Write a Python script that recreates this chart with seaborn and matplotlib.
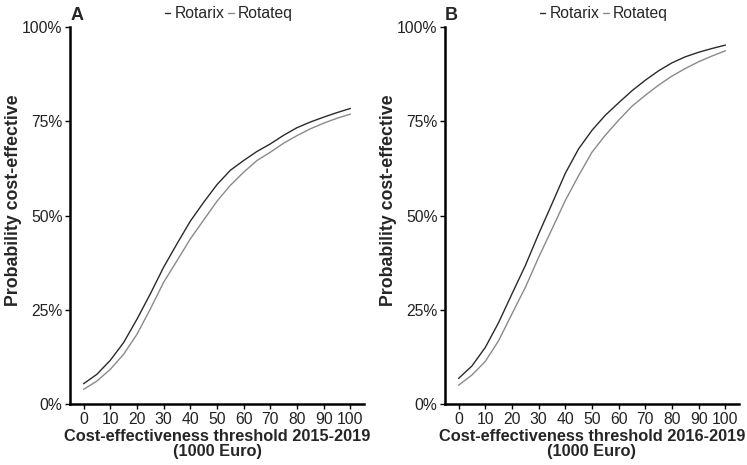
"""
Cost-effectiveness acceptability curves, Rotarix vs Rotateq
"""
import pandas as pd
import matplotlib.pyplot as plt
import seaborn as sns
from matplotlib.ticker import PercentFormatter

# Threshold (1000 Euro)
thresholds = [0, 5, 10, 15, 20, 25, 30, 35, 40, 45, 50,
              55, 60, 65, 70, 75, 80, 85, 90, 95, 100]

# Panel A: 2015-2019
a_rotarix = [0.054, 0.079, 0.116, 0.163, 0.225, 0.292, 0.363, 0.425, 0.485, 0.535, 0.582,
             0.620, 0.646, 0.670, 0.690, 0.713, 0.733, 0.748, 0.761, 0.773, 0.784]
a_rotateq = [0.039, 0.061, 0.092, 0.132, 0.185, 0.252, 0.323, 0.380, 0.438, 0.488, 0.538,
             0.580, 0.615, 0.646, 0.668, 0.692, 0.712, 0.730, 0.745, 0.758, 0.769]

# Panel B: 2016-2019
b_rotarix = [0.068, 0.101, 0.150, 0.216, 0.292, 0.367, 0.451, 0.531, 0.612, 0.677, 0.726,
             0.766, 0.799, 0.831, 0.859, 0.884, 0.905, 0.921, 0.933, 0.943, 0.952]
b_rotateq = [0.050, 0.077, 0.113, 0.168, 0.239, 0.309, 0.389, 0.464, 0.540, 0.606, 0.668,
             0.713, 0.753, 0.790, 0.819, 0.846, 0.870, 0.890, 0.908, 0.923, 0.937]

panels = [
    ("A", "Cost-effectiveness threshold 2015-2019\n(1000 Euro)", a_rotarix, a_rotateq),
    ("B", "Cost-effectiveness threshold 2016-2019\n(1000 Euro)", b_rotarix, b_rotateq),
]

sns.set_style("white")
plt.rcParams['font.family'] = ['Liberation Sans', 'DejaVu Sans']

fig = plt.figure(figsize=(7.47, 4.65), dpi=100)
lefts = [0.094, 0.596]
palette = {"Rotarix": "#2a2a2a", "Rotateq": "#8a8a8a"}

for left, (tag, xlabel, rotarix, rotateq) in zip(lefts, panels):
    ax = fig.add_axes([left, 0.131, 0.393, 0.811])
    df = pd.DataFrame({
        "threshold": thresholds * 2,
        "prob": rotarix + rotateq,
        "vaccine": ["Rotarix"] * len(thresholds) + ["Rotateq"] * len(thresholds),
    })
    sns.lineplot(data=df, x="threshold", y="prob", hue="vaccine",
                 palette=palette, linewidth=1.0, ax=ax)

    ax.set_xlim(-5, 105)
    ax.set_ylim(0, 1)
    ax.set_xticks(range(0, 101, 10))
    ax.set_yticks([0, 0.25, 0.5, 0.75, 1.0])
    ax.yaxis.set_major_formatter(PercentFormatter(1.0, decimals=0))
    sns.despine(ax=ax)
    for side in ["left", "bottom"]:
        ax.spines[side].set_linewidth(1.8)
        ax.spines[side].set_color("black")
    ax.tick_params(axis="both", length=3.5, width=1, color="black",
                   labelsize=11.3, labelcolor="#222222", direction="out",
                   bottom=True, left=True, pad=2)
    ax.set_xlabel(xlabel, fontsize=11.8, fontweight="bold", labelpad=1.5,
                  linespacing=1.05)
    ax.set_ylabel("Probability cost-effective", fontsize=12.8, fontweight="bold")
    ax.yaxis.set_label_coords(-0.163, 0.54)

    ax.legend(title=None, loc="lower center", bbox_to_anchor=(0.54, 0.995), ncol=2,
              frameon=False, fontsize=11.3, handlelength=0.35, handletextpad=0.25,
              columnspacing=0.25, borderaxespad=0.1)
    ax.text(0.0, 1.053, tag, transform=ax.transAxes, fontsize=13,
            fontweight="bold", ha="left", va="top")

plt.savefig("out.png", dpi=100)
plt.close()
